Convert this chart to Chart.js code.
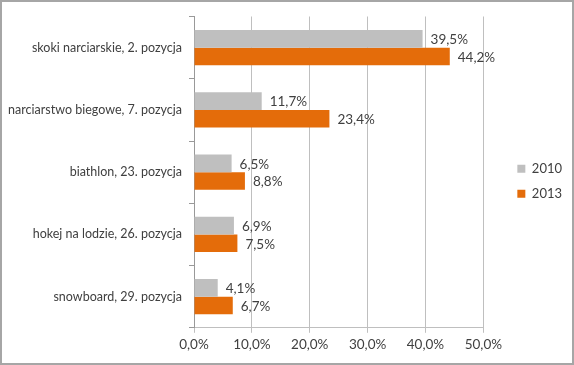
<!DOCTYPE html>
<html>
<head>
<meta charset="utf-8">
<script src="https://cdn.jsdelivr.net/npm/chart.js@4"></script>
<style>
  html, body { margin: 0; padding: 0; background: #fff; }
  #wrap { width: 574px; height: 365px; box-sizing: border-box; border: 2px solid #a6a6a6; background: #fff; }
  #wrap canvas { display: block; }
</style>
</head>
<body>
<div id="wrap"><canvas id="chart" width="570" height="361"></canvas></div>
<script>
const categories = [
    'skoki narciarskie, 2. pozycja',
    'narciarstwo biegowe, 7. pozycja',
    'biathlon, 23. pozycja',
    'hokej na lodzie, 26. pozycja',
    'snowboard, 29. pozycja'
];
const values2010 = [39.5, 11.7, 6.5, 6.9, 4.1];
const values2013 = [44.2, 23.4, 8.8, 7.5, 6.7];
const seriesNames = ['2010', '2013'];

const textColor = '#404040';
const fontFamily = 'Lato, "Liberation Sans", sans-serif';

function pct(v) {
    return v.toFixed(1).replace('.', ',') + '%';
}

// value labels next to the bar ends
const barLabels = {
    id: 'barLabels',
    afterDatasetsDraw(chart) {
        const ctx = chart.ctx;
        ctx.save();
        ctx.font = '13.5px ' + fontFamily;
        ctx.fillStyle = textColor;
        ctx.textAlign = 'left';
        ctx.textBaseline = 'middle';
        chart.data.datasets.forEach((ds, i) => {
            chart.getDatasetMeta(i).data.forEach((bar, j) => {
                ctx.fillText(pct(ds.data[j]), bar.x + 8, bar.y + 1);
            });
        });
        ctx.restore();
    }
};

const ctx = document.getElementById('chart').getContext('2d');
new Chart(ctx, {
    type: 'bar',
    data: {
        labels: categories,
        datasets: [
            {
                label: seriesNames[0],
                data: values2010,
                backgroundColor: '#bfbfbf',
                categoryPercentage: 0.565,
                barPercentage: 1.0
            },
            {
                label: seriesNames[1],
                data: values2013,
                backgroundColor: '#e46c0a',
                categoryPercentage: 0.565,
                barPercentage: 1.0
            }
        ]
    },
    options: {
        indexAxis: 'y',
        responsive: false,
        animation: false,
        layout: {
            padding: { top: 13, left: 0, right: 0, bottom: 6 }
        },
        plugins: {
            legend: {
                position: 'right',
                fullSize: false,
                title: {
                    display: true,
                    text: '',
                    padding: 0,
                    font: { size: 15 }
                },
                labels: {
                    boxWidth: 8,
                    boxHeight: 8,
                    padding: 12,
                    color: textColor,
                    font: { family: fontFamily, size: 13 }
                }
            },
            tooltip: { enabled: false }
        },
        scales: {
            x: {
                min: 0,
                max: 50,
                ticks: {
                    stepSize: 10,
                    color: textColor,
                    font: { family: fontFamily, size: 13.5 },
                    padding: 4,
                    callback: v => pct(v)
                },
                grid: {
                    color: '#bfbfbf',
                    tickLength: 5
                },
                border: { color: '#bfbfbf' }
            },
            y: {
                ticks: {
                    color: textColor,
                    font: { family: fontFamily, size: 12.5 },
                    padding: 7
                },
                grid: {
                    offset: true,
                    drawOnChartArea: false,
                    color: '#999999',
                    tickLength: 5
                },
                border: { color: '#999999' },
                afterFit(scale) { scale.width = 192; }
            },
            // empty spacer between the plot and the legend
            gap: {
                type: 'category',
                labels: categories,
                position: 'right',
                grid: { display: false },
                ticks: { display: false },
                border: { display: false },
                afterFit(scale) { scale.width = 22; }
            }
        }
    },
    plugins: [barLabels]
});
</script>
</body>
</html>
